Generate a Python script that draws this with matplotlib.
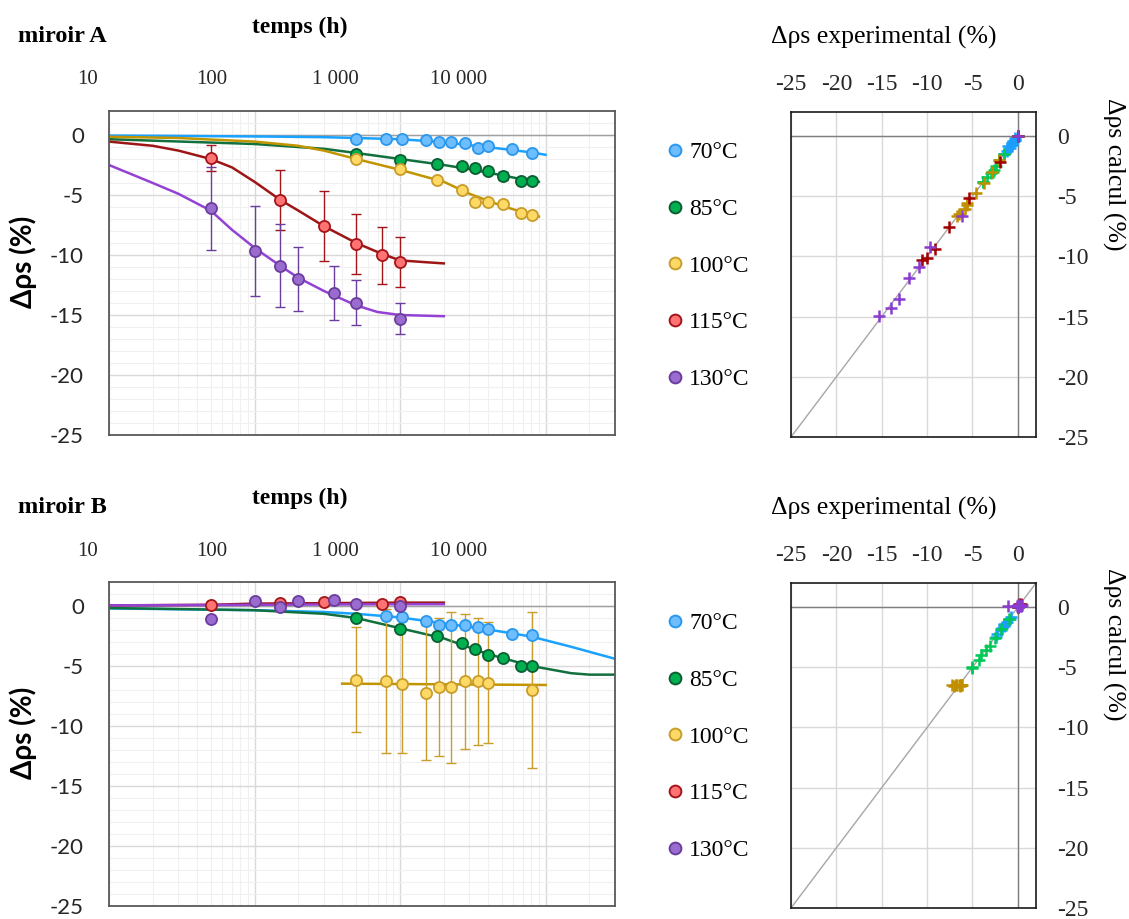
import numpy as np
import matplotlib.pyplot as plt
from matplotlib.lines import Line2D
from matplotlib.ticker import MultipleLocator, LogLocator, NullFormatter

plt.rcParams['font.family'] = ['Liberation Serif', 'DejaVu Serif']
plt.rcParams['axes.unicode_minus'] = False

labels = ['70°C', '85°C', '100°C', '115°C', '130°C']
face = ['#6dbdff', '#00b050', '#ffd966', '#ff7373', '#9a6ccf']
edge = ['#2a98ee', '#0b5e32', '#c89d2a', '#a3151a', '#6b3d9c']
line = ['#19a2ff', '#12703e', '#c29500', '#9e1515', '#9342d4']
cross = ['#1a9fff', '#00c957', '#bf8f00', '#a00000', '#8a3ccf']

# ---------------- miroir A : mesures (temps h, delta rho %)
a_t70 = [500, 800, 1030, 1500, 1850, 2230, 2780, 3440, 4040, 5850, 8030]
a_y70 = [-0.3, -0.3, -0.3, -0.45, -0.6, -0.6, -0.7, -1.05, -0.9, -1.15, -1.5]
a_t85 = [500, 1000, 1800, 2650, 3250, 4050, 5100, 6800, 8100]
a_y85 = [-1.58, -2.08, -2.44, -2.58, -2.78, -2.97, -3.42, -3.81, -3.81]
a_e85 = [0.15, 0.3, 0.2, 0.2, 0.2, 0.2, 0.35, 0.2, 0.2]
a_t100 = [500, 1000, 1800, 2650, 3250, 4050, 5100, 6800, 8100]
a_y100 = [-2.03, -2.86, -3.75, -4.58, -5.56, -5.56, -5.78, -6.53, -6.67]
a_t115 = [50, 150, 300, 500, 750, 1000]
a_y115 = [-1.94, -5.42, -7.58, -9.08, -10.03, -10.58]
a_e115 = [1.1, 2.47, 2.94, 2.5, 2.36, 2.1]
a_t130 = [50, 100, 150, 200, 350, 500, 1000]
a_y130 = [-6.11, -9.64, -10.89, -12.0, -13.14, -13.97, -15.31]
a_e130 = [3.47, 3.75, 3.47, 2.7, 2.25, 1.9, 1.28]

# miroir A : modele
a_mt70 = [10, 30, 100, 300, 500, 1000, 2000, 3000, 5000, 8000, 10000]
a_my70 = [-0.05, -0.08, -0.12, -0.18, -0.25, -0.35, -0.6, -0.85, -1.15, -1.45, -1.65]
a_mt85 = [10, 100, 300, 500, 1000, 2000, 3000, 5000, 8000, 9000]
a_my85 = [-0.35, -0.75, -1.15, -1.5, -2.0, -2.5, -2.85, -3.35, -3.85, -3.9]
a_mt100 = [10, 30, 100, 200, 300, 500, 1000, 2000, 3000, 5000, 8000, 9000]
a_my100 = [-0.15, -0.25, -0.55, -0.9, -1.3, -2.0, -2.9, -3.9, -4.9, -5.9, -6.65, -6.8]
a_mt115 = [10, 20, 30, 50, 70, 100, 150, 200, 300, 500, 750, 1000, 1500, 2000]
a_my115 = [-0.55, -0.9, -1.3, -2.0, -2.7, -3.9, -5.4, -6.3, -7.6, -9.0, -9.9, -10.45, -10.6, -10.7]
a_mt130 = [10, 20, 30, 50, 70, 100, 150, 200, 300, 500, 700, 1000, 2000]
a_my130 = [-2.5, -4.0, -4.9, -6.3, -7.9, -9.4, -10.9, -11.9, -13.0, -14.2, -14.75, -15.0, -15.1]

# miroir A : valeurs calculees aux temps de mesure
a_c70 = [-0.2, -0.3, -0.35, -0.45, -0.55, -0.6, -0.75, -0.85, -0.95, -1.2, -1.45]
a_c85 = [-1.5, -2.0, -2.5, -2.8, -2.95, -3.1, -3.4, -3.8, -3.85]
a_c100 = [-1.95, -2.95, -3.9, -4.7, -5.6, -5.7, -6.05, -6.45, -6.6]
a_c115 = [-2.19, -5.18, -7.59, -9.34, -10.1, -10.3]
a_c130 = [-6.65, -9.2, -10.9, -11.8, -13.55, -14.25, -14.97]

# ---------------- miroir B : mesures
b_t70 = [800, 1030, 1500, 1850, 2230, 2780, 3440, 4040, 5850, 8030]
b_y70 = [-0.81, -0.92, -1.25, -1.56, -1.56, -1.56, -1.78, -1.89, -2.31, -2.42]
b_t85 = [500, 1000, 1800, 2650, 3250, 4050, 5100, 6800, 8100]
b_y85 = [-1.03, -1.89, -2.53, -3.08, -3.56, -4.06, -4.33, -5.0, -5.0]
b_t100 = [500, 800, 1030, 1500, 1850, 2230, 2780, 3440, 4040, 8030]
b_y100 = [-6.14, -6.28, -6.47, -7.22, -6.78, -6.78, -6.28, -6.28, -6.39, -7.03]
b_e100 = [4.36, 6.0, 5.8, 5.6, 5.75, 6.3, 5.6, 5.3, 5.05, 6.5]
b_t115 = [50, 150, 300, 750, 1000]
b_y115 = [0.06, 0.25, 0.33, 0.17, 0.33]
b_t130 = [50, 100, 150, 200, 350, 500, 1000]
b_y130 = [-1.11, 0.39, -0.08, 0.39, 0.47, 0.17, -0.03]

# miroir B : modele
b_mt70 = [10, 100, 300, 500, 1000, 2000, 4000, 8000, 15000, 30000]
b_my70 = [-0.2, -0.35, -0.5, -0.65, -0.95, -1.45, -1.95, -2.55, -3.4, -4.4]
b_mt85 = [10, 100, 300, 500, 1000, 2000, 4000, 8000, 15000, 20000, 30000]
b_my85 = [-0.17, -0.35, -0.65, -1.0, -1.85, -2.7, -4.0, -5.0, -5.6, -5.72, -5.72]
b_mt100 = [400, 10000]
b_my100 = [-6.47, -6.58]
b_mt115 = [10, 50, 100, 1000, 2000]
b_my115 = [0.05, 0.1, 0.2, 0.28, 0.28]
b_mt130 = [10, 100, 1000, 2000]
b_my130 = [0.05, 0.1, 0.15, 0.15]

# miroir B : valeurs calculees
b_c70 = [-0.85, -0.95, -1.25, -1.4, -1.5, -1.6, -1.75, -1.9, -2.2, -2.5]
b_c85 = [-1.0, -1.8, -2.6, -3.2, -3.6, -4.0, -4.4, -4.95, -5.05]
b_c100 = [-6.45, -6.46, -6.47, -6.48, -6.49, -6.5, -6.5, -6.51, -6.52, -6.55]
b_c115 = [0.1, 0.15, 0.2, 0.25, 0.27]
b_c130 = [0.05, 0.1, 0.12, 0.13, 0.14, 0.15, 0.15]

mirrors = [
    dict(name='miroir A',
         t=[a_t70, a_t85, a_t100, a_t115, a_t130],
         y=[a_y70, a_y85, a_y100, a_y115, a_y130],
         err=[None, a_e85, None, a_e115, a_e130],
         mt=[a_mt70, a_mt85, a_mt100, a_mt115, a_mt130],
         my=[a_my70, a_my85, a_my100, a_my115, a_my130],
         calc=[a_c70, a_c85, a_c100, a_c115, a_c130],
         diag=[-25, 0]),
    dict(name='miroir B',
         t=[b_t70, b_t85, b_t100, b_t115, b_t130],
         y=[b_y70, b_y85, b_y100, b_y115, b_y130],
         err=[None, None, b_e100, None, None],
         mt=[b_mt70, b_mt85, b_mt100, b_mt115, b_mt130],
         my=[b_my70, b_my85, b_my100, b_my115, b_my130],
         calc=[b_c70, b_c85, b_c100, b_c115, b_c130],
         diag=[-25, 2]),
]

W, H = 1129, 919
fig = plt.figure(figsize=(W / 100, H / 100), dpi=100)


def box(x0, y0, x1, y1):
    return [x0 / W, 1 - y1 / H, (x1 - x0) / W, (y1 - y0) / H]


sans = ['Lato', 'Open Sans', 'DejaVu Sans']

for k, m in enumerate(mirrors):
    off = 471 * k

    # ---- courbe temporelle
    ax = fig.add_axes(box(109, 111 + off, 615, 435 + off))
    ax.set_xscale('log')
    ax.set_xlim(10, 30000)
    ax.set_ylim(-25, 2)
    ax.set_yticks([0, -5, -10, -15, -20, -25])
    ax.yaxis.set_minor_locator(MultipleLocator(1))
    ax.xaxis.set_minor_locator(LogLocator(base=10, subs=np.arange(2, 10)))
    ax.xaxis.set_minor_formatter(NullFormatter())
    ax.grid(which='major', color='#d9d9d9', lw=1)
    ax.grid(which='minor', color='#f0f0f0', lw=0.8)
    ax.set_axisbelow(True)
    ax.tick_params(axis='x', which='both', length=0, labelbottom=False)
    ax.tick_params(axis='y', which='both', length=0, pad=18, labelsize=16, labelcolor='#262626')
    for lbl in ax.get_yticklabels():
        lbl.set_fontfamily(sans)
    for s in ax.spines.values():
        s.set_color('#595959')
        s.set_linewidth(1.3)
    ax.axhline(0, color='#a0a0a0', lw=1, zorder=1)

    for i in range(5):
        ax.plot(m['mt'][i], m['my'][i], color=line[i], lw=1.8, zorder=2)
        if m['err'][i] is not None:
            ax.errorbar(m['t'][i], m['y'][i], yerr=m['err'][i], fmt='none',
                        ecolor=edge[i], elinewidth=1, capsize=3.5, capthick=1, zorder=3)
        ax.plot(m['t'][i], m['y'][i], 'o', ms=8, mfc=face[i], mec=edge[i], mew=1.3, zorder=4)

    ax.set_ylabel('Δρs (%)', fontsize=20, fontweight='bold', family=sans)
    ax.yaxis.set_label_coords(-0.143, 0.535)
    ax.text(0.377, 1.241, 'temps (h)', transform=ax.transAxes, ha='center', va='baseline',
            fontsize=17, fontweight='bold')
    ax.text(-0.18, 1.213, m['name'], transform=ax.transAxes, ha='left', va='baseline',
            fontsize=17.5, fontweight='bold')

    handles = [Line2D([], [], ls='none', marker='o', ms=8.5, mfc=face[i], mec=edge[i], mew=1.4)
               for i in range(5)]
    ax.legend(handles, labels, loc='upper left', bbox_to_anchor=(1.105, 0.905), frameon=False,
              fontsize=17, handlelength=0.6, handletextpad=0.3, labelspacing=1.49,
              borderpad=0, borderaxespad=0)

    # axe des temps affiche en haut
    top = fig.add_axes(box(88, 89.5 + off, 458.5, 90 + off))
    top.set_xscale('log')
    top.set_xlim(10, 10000)
    top.set_xticks([10, 100, 1000, 10000])
    top.set_xticklabels(['10', '100', '1 000', '10 000'])
    top.xaxis.set_minor_locator(plt.NullLocator())
    top.set_yticks([])
    top.xaxis.tick_top()
    top.tick_params(axis='x', length=0, pad=0, labelsize=15, labelcolor='#262626')
    for s in top.spines.values():
        s.set_visible(False)
    top.patch.set_alpha(0)

    # ---- correlation calcul / experience
    ax2 = fig.add_axes(box(791, 112 + off, 1036, 437 + off))
    ax2.set_xlim(-25, 2)
    ax2.set_ylim(-25, 2)
    ticks = [-25, -20, -15, -10, -5, 0]
    ax2.set_xticks(ticks)
    ax2.set_yticks(ticks)
    ax2.grid(color='#d9d9d9', lw=1)
    ax2.set_axisbelow(True)
    ax2.xaxis.tick_top()
    ax2.yaxis.tick_right()
    ax2.tick_params(length=0, labelsize=17, labelcolor='#262626')
    ax2.tick_params(axis='x', pad=12.5)
    ax2.tick_params(axis='y', pad=15)
    for s in ax2.spines.values():
        s.set_color('#1a1a1a')
        s.set_linewidth(1.2)
    ax2.axhline(0, color='#7f7f7f', lw=1, zorder=1)
    ax2.axvline(0, color='#7f7f7f', lw=1, zorder=1)
    ax2.plot(m['diag'], m['diag'], color='#a6a6a6', lw=1, zorder=1.5)
    for i in range(5):
        ax2.plot([0] + m['y'][i], [0] + m['calc'][i], '+', ms=8.5, mew=1.8,
                 color=cross[i], zorder=3)
    ax2.xaxis.set_label_position('top')
    ax2.set_xlabel('Δρs experimental (%)', fontsize=18.5)
    ax2.xaxis.set_label_coords(0.38, 1.209)
    ax2.yaxis.set_label_position('right')
    ax2.set_ylabel('Δρs calcul (%)', fontsize=18.5, rotation=270, va='bottom')
    ax2.yaxis.set_label_coords(1.27, 0.81)

fig.savefig('out.png', dpi=100)
